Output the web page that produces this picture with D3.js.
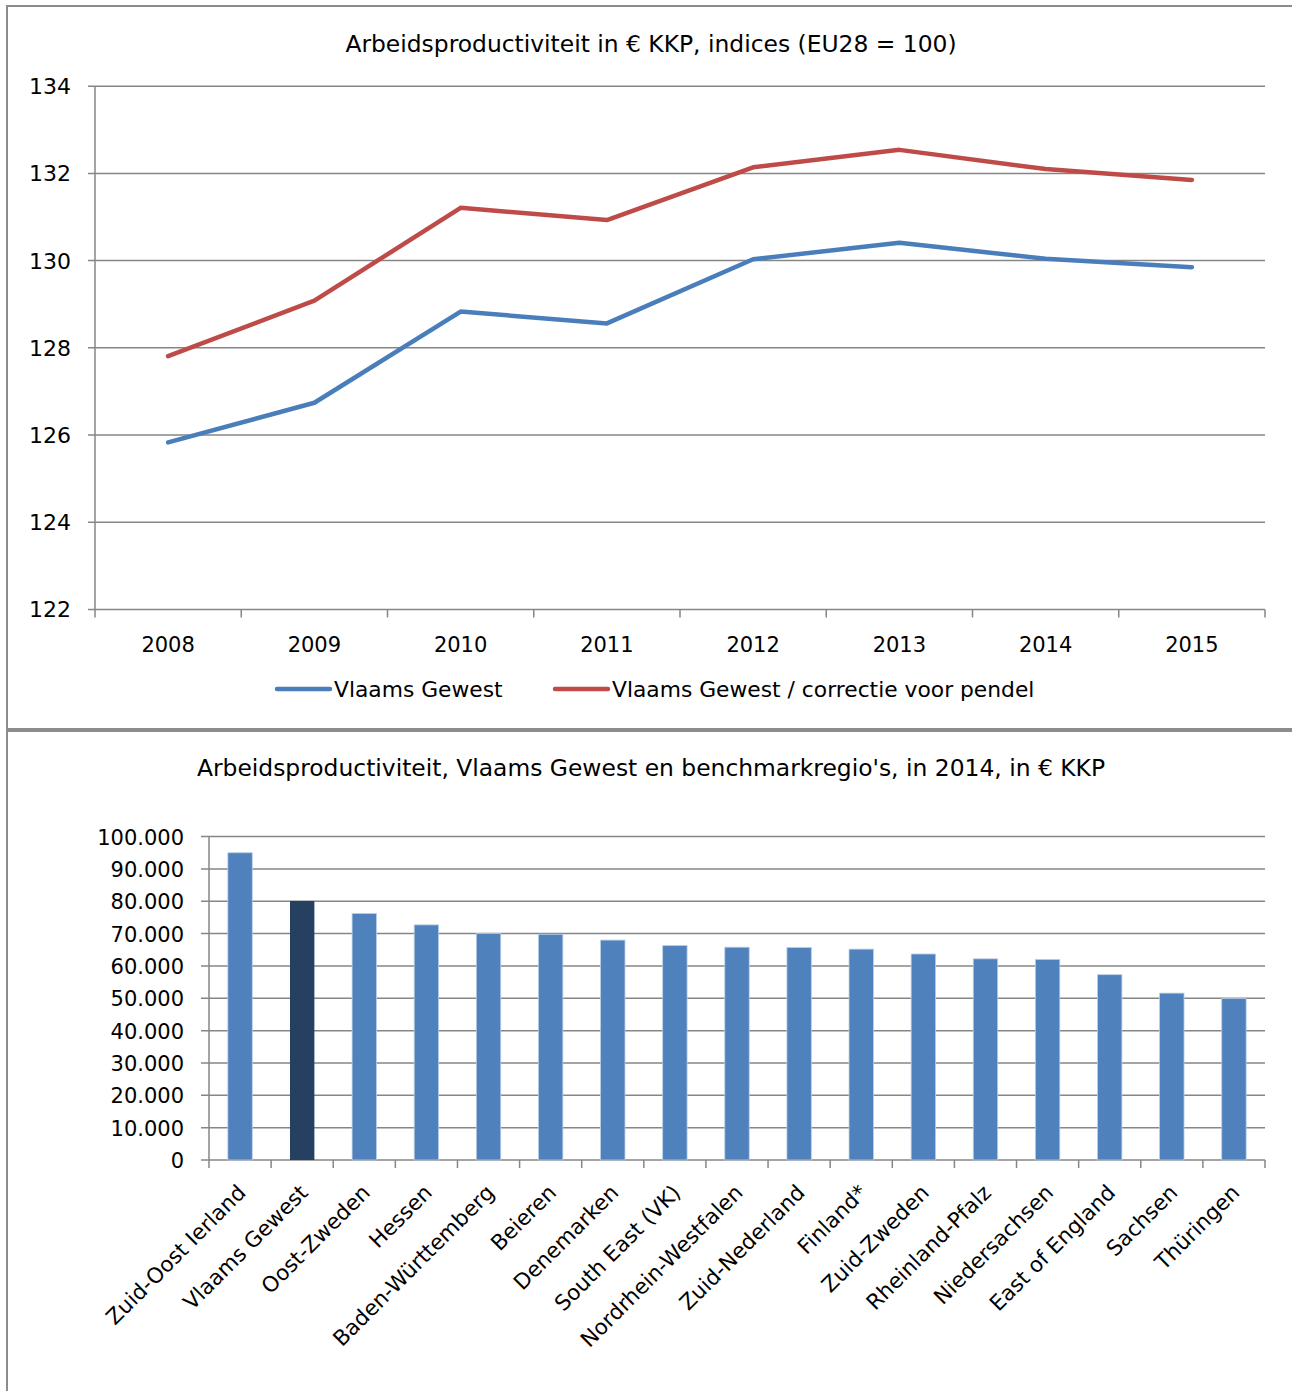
<!DOCTYPE html>
<html><head><meta charset="utf-8">
<script src="https://cdn.jsdelivr.net/npm/d3@7"></script>
<style>
html,body{margin:0;padding:0;background:#fff;}
svg{display:block;}
text{font-family:"DejaVu Sans",sans-serif;fill:#000;}
</style></head>
<body>
<svg id="c" width="1292" height="1391"></svg>
<script>
// ---- Data: chart 1 ----
const years = ["2008","2009","2010","2011","2012","2013","2014","2015"];
const vlaams = [125.83,126.74,128.83,128.56,130.03,130.41,130.04,129.85];
const vlaamsPendel = [127.81,129.08,131.21,130.93,132.14,132.54,132.10,131.85];
const lineTicks = [122,124,126,128,130,132,134];
const lineTitle = "Arbeidsproductiviteit in € KKP, indices (EU28 = 100)";
const legendLabels = ["Vlaams Gewest","Vlaams Gewest / correctie voor pendel"];

// ---- Data: chart 2 ----
const regions = ["Zuid-Oost Ierland","Vlaams Gewest","Oost-Zweden","Hessen","Baden-Württemberg","Beieren","Denemarken","South East (VK)","Nordrhein-Westfalen","Zuid-Nederland","Finland*","Zuid-Zweden","Rheinland-Pfalz","Niedersachsen","East of England","Sachsen","Thüringen"];
const productivity = [95000,80100,76200,72700,70000,69800,68000,66300,65800,65700,65200,63700,62200,62000,57300,51600,49900];
const barTicks = [0,10000,20000,30000,40000,50000,60000,70000,80000,90000,100000];
const barTitle = "Arbeidsproductiviteit, Vlaams Gewest en benchmarkregio's, in 2014, in € KKP";

const svg = d3.select("#c");
const gridCol = "#868686";
const blue = "#4a7ebb", red = "#be4b48";

// frames
svg.append("rect").attr("x",7).attr("y",6).attr("width",1300).attr("height",723)
  .attr("fill","none").attr("stroke","#8c8c8c").attr("stroke-width",2);
svg.append("rect").attr("x",7).attr("y",731).attr("width",1300).attr("height",700)
  .attr("fill","none").attr("stroke","#8c8c8c").attr("stroke-width",2);

// ===== Chart 1 =====
const x1 = d3.scaleBand().domain(years).range([95,1265]);
const y1 = d3.scaleLinear().domain([122,134]).range([609.4,86.2]);

svg.append("text").attr("x",651).attr("y",52).attr("text-anchor","middle")
  .style("font-size","23.4px").text(lineTitle);

const g1 = svg.append("g");
g1.selectAll("line.grid").data(lineTicks).join("line")
  .attr("x1",88).attr("x2",1265).attr("y1",d=>y1(d)).attr("y2",d=>y1(d))
  .attr("stroke",gridCol).attr("stroke-width",1.5);
g1.append("line").attr("x1",95).attr("x2",95).attr("y1",y1(134)).attr("y2",y1(122))
  .attr("stroke",gridCol).attr("stroke-width",1.5);
const bounds1 = years.map(d=>x1(d)).concat([x1.range()[1]]);
g1.selectAll("line.xt").data(bounds1).join("line")
  .attr("x1",d=>d).attr("x2",d=>d).attr("y1",y1(122)).attr("y2",y1(122)+8)
  .attr("stroke",gridCol).attr("stroke-width",1.5);
g1.selectAll("text.yl").data(lineTicks).join("text")
  .attr("x",71).attr("y",d=>y1(d)+8).attr("text-anchor","end")
  .style("font-size","22px").text(d=>d);
g1.selectAll("text.xl").data(years).join("text")
  .attr("x",d=>x1(d)+x1.bandwidth()/2).attr("y",652).attr("text-anchor","middle")
  .style("font-size","21px").text(d=>d);
const line1 = d3.line().x((d,i)=>x1(years[i])+x1.bandwidth()/2).y(d=>y1(d));
[[vlaams,blue],[vlaamsPendel,red]].forEach(([data,col])=>{
  g1.append("path").attr("d",line1(data)).attr("fill","none").attr("stroke",col)
    .attr("stroke-width",4.5).attr("stroke-linejoin","round").attr("stroke-linecap","round");
});
const legend = [{x:277,label:legendLabels[0],col:blue},{x:555,label:legendLabels[1],col:red}];
legend.forEach(l=>{
  g1.append("line").attr("x1",l.x).attr("x2",l.x+53).attr("y1",689).attr("y2",689)
    .attr("stroke",l.col).attr("stroke-width",4.5).attr("stroke-linecap","round");
  g1.append("text").attr("x",l.x+57).attr("y",697).style("font-size","21.8px").text(l.label);
});

// ===== Chart 2 =====
svg.append("text").attr("x",651).attr("y",776).attr("text-anchor","middle")
  .style("font-size","23.4px").text(barTitle);

const xb = d3.scaleBand().domain(regions).range([209,1265]);
const y2 = d3.scaleLinear().domain([0,100000]).range([1160,836.6]);
const g2 = svg.append("g");
const fmt = d=> d===0 ? "0" : d3.format(",")(d).replace(/,/g,".");

g2.selectAll("line.grid").data(barTicks).join("line")
  .attr("x1",201).attr("x2",1265).attr("y1",d=>y2(d)).attr("y2",d=>y2(d))
  .attr("stroke",gridCol).attr("stroke-width",1.5);
g2.append("line").attr("x1",209).attr("x2",209).attr("y1",y2(100000)).attr("y2",y2(0))
  .attr("stroke",gridCol).attr("stroke-width",1.5);
const bounds2 = regions.map(d=>xb(d)).concat([xb.range()[1]]);
g2.selectAll("line.xt").data(bounds2).join("line")
  .attr("x1",d=>d).attr("x2",d=>d).attr("y1",y2(0)).attr("y2",y2(0)+8)
  .attr("stroke",gridCol).attr("stroke-width",1.5);
g2.selectAll("text.yl").data(barTicks).join("text")
  .attr("x",184).attr("y",d=>y2(d)+8).attr("text-anchor","end")
  .style("font-size","21px").text(fmt);

g2.selectAll("rect.bar").data(regions).join("rect")
  .attr("x",d=>xb(d)+xb.bandwidth()/2-12.2).attr("width",24.4)
  .attr("y",(d,i)=>y2(productivity[i])).attr("height",(d,i)=>y2(0)-y2(productivity[i]))
  .attr("fill",d=>d==="Vlaams Gewest"?"#254061":"#4f81bd")
  .attr("stroke",d=>d==="Vlaams Gewest"?"none":"#b9cde5").attr("stroke-width",0.8);

g2.selectAll("text.xl").data(regions).join("text")
  .attr("transform",d=>`translate(${xb(d)+xb.bandwidth()/2+7},${1194}) rotate(-45)`)
  .attr("text-anchor","end").style("font-size","21.4px").text(d=>d);
</script>
</body></html>
